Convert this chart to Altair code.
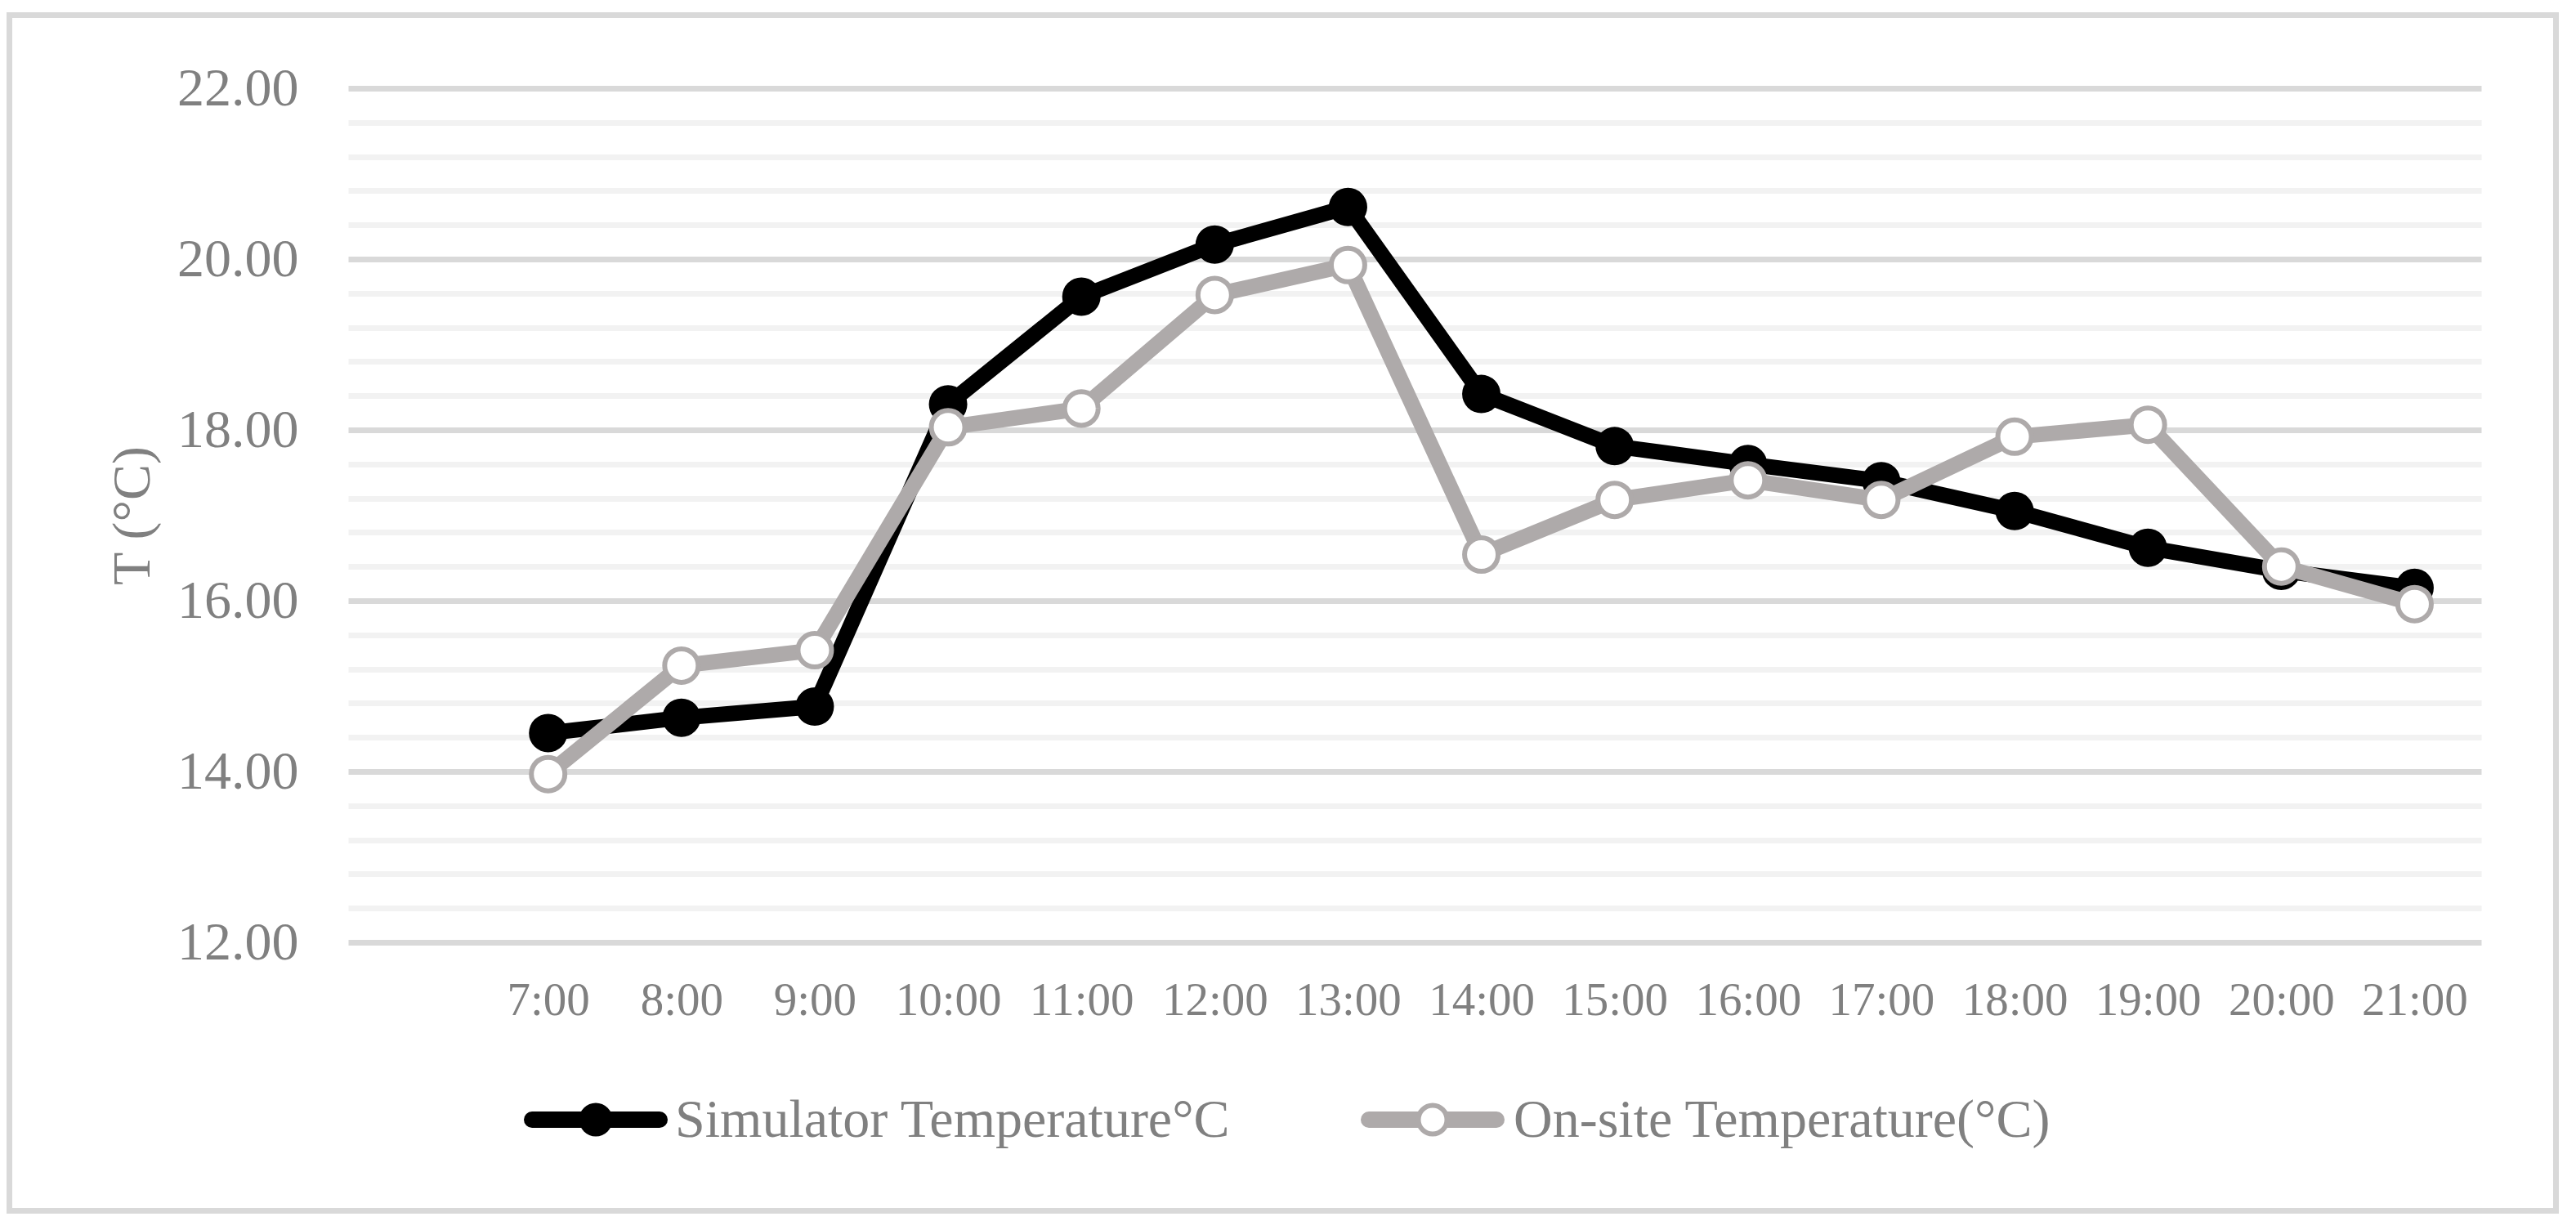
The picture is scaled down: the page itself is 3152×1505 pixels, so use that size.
import altair as alt
import pandas as pd

# ---- data ----
hours = ["7:00", "8:00", "9:00", "10:00", "11:00", "12:00", "13:00", "14:00",
         "15:00", "16:00", "17:00", "18:00", "19:00", "20:00", "21:00"]
x_slots = [""] + hours  # the category axis has an empty first slot
simulator = [14.45, 14.63, 14.76, 18.30, 19.56, 20.17, 20.61, 18.42,
             17.81, 17.60, 17.40, 17.05, 16.62, 16.35, 16.15]
onsite = [13.97, 15.24, 15.42, 18.03, 18.25, 19.58, 19.93, 16.54,
          17.18, 17.41, 17.18, 17.92, 18.06, 16.40, 15.96]
series_names = ["Simulator Temperature°C", "On-site Temperature(°C)"]
y_ticks = [12.0, 12.4, 12.8, 13.2, 13.6, 14.0, 14.4, 14.8, 15.2, 15.6,
           16.0, 16.4, 16.8, 17.2, 17.6, 18.0, 18.4, 18.8, 19.2, 19.6,
           20.0, 20.4, 20.8, 21.2, 21.6, 22.0]

df = pd.DataFrame({
    "hour": hours + hours,
    "temp": simulator + onsite,
    "series": [series_names[0]] * len(hours) + [series_names[1]] * len(hours),
})
leg_df = pd.DataFrame({"series": series_names})

FONT = "Liberation Serif"
TXT = "#808080"
BLACK = "#000000"
GRAY = "#AEAAAA"
W, H = 2610, 1045

major_test = "abs(datum.value - round(datum.value / 2) * 2) < 0.01"

x_enc = alt.X(
    "hour:O",
    scale=alt.Scale(type="point", domain=x_slots, padding=0.5),
    axis=alt.Axis(title=None, labelAngle=0, labelFont=FONT, labelFontSize=57,
                  labelColor=TXT, labelPadding=71, labelBaseline="middle",
                  ticks=False, tickSize=0, domain=False, grid=False,
                  labelOverlap=False),
)
y_enc = alt.Y(
    "temp:Q",
    scale=alt.Scale(domain=[12, 22], nice=False, zero=False),
    axis=alt.Axis(
        values=y_ticks,
        labelExpr=f"{major_test} ? format(datum.value, '.2f') : ''",
        labelFont=FONT, labelFontSize=66, labelColor=TXT, labelPadding=61,
        labelBaseline="middle", labelOverlap=False, labelBound=False,
        ticks=False, tickSize=0, domain=False,
        grid=True, gridWidth=7,
        gridColor={"condition": {"test": major_test, "value": "#D9D9D9"},
                   "value": "#F2F2F2"},
        title="T (°C)", titleFont=FONT, titleFontSize=66, titleColor=TXT,
        titleFontWeight="normal", titleAngle=270, titleX=-264, titleY=H / 2,
        titleAlign="center", titleBaseline="middle",
    ),
)

base = alt.Chart(df)

border = alt.Chart(leg_df.head(1)).mark_rect(
    fillOpacity=0, stroke="#D9D9D9", strokeWidth=7
).encode(x=alt.value(-414.5), x2=alt.value(2701.5),
         y=alt.value(-89.5), y2=alt.value(1373.5))

sim_line = base.transform_filter(alt.datum.series == series_names[0]).mark_line(
    color=BLACK, strokeWidth=19, strokeJoin="round", strokeCap="round"
).encode(x=x_enc, y=y_enc)
sim_pts = base.transform_filter(alt.datum.series == series_names[0]).mark_point(
    shape="circle", filled=True, fill=BLACK, opacity=1, strokeWidth=0, size=2209
).encode(x=x_enc, y=y_enc)
on_line = base.transform_filter(alt.datum.series == series_names[1]).mark_line(
    color=GRAY, strokeWidth=19, strokeJoin="round", strokeCap="round"
).encode(x=x_enc, y=y_enc)
on_pts = base.transform_filter(alt.datum.series == series_names[1]).mark_point(
    shape="circle", filled=True, fill="#FFFFFF", stroke=GRAY, strokeWidth=6,
    opacity=1, size=1681
).encode(x=x_enc, y=y_enc)

# ---- legend (drawn by hand, bottom centre) ----
LEG_Y = 1262
leg0 = alt.Chart(leg_df).transform_filter(alt.datum.series == series_names[0])
leg1 = alt.Chart(leg_df).transform_filter(alt.datum.series == series_names[1])
legend_layers = [
    leg0.mark_rule(color=BLACK, strokeWidth=20, strokeCap="round").encode(
        x=alt.value(225), x2=alt.value(381), y=alt.value(LEG_Y)),
    leg0.mark_point(shape="circle", filled=True, fill=BLACK, opacity=1,
                    strokeWidth=0, size=1681).encode(
        x=alt.value(303), y=alt.value(LEG_Y)),
    leg0.mark_text(align="left", baseline="middle", font=FONT, fontSize=66,
                   color=TXT).encode(
        x=alt.value(400), y=alt.value(LEG_Y + 1), text="series:N"),
    leg1.mark_rule(color=GRAY, strokeWidth=20, strokeCap="round").encode(
        x=alt.value(1249), x2=alt.value(1405), y=alt.value(LEG_Y)),
    leg1.mark_point(shape="circle", filled=True, fill="#FFFFFF", stroke=GRAY,
                    strokeWidth=6, opacity=1, size=1225).encode(
        x=alt.value(1327), y=alt.value(LEG_Y)),
    leg1.mark_text(align="left", baseline="middle", font=FONT, fontSize=66,
                   color=TXT).encode(
        x=alt.value(1426), y=alt.value(LEG_Y + 1), text="series:N"),
]

chart = alt.layer(
    border, sim_line, sim_pts, on_line, on_pts, *legend_layers
).properties(
    width=W, height=H,
    padding={"left": 418, "top": 100, "right": 100, "bottom": 336},
    autosize=alt.AutoSizeParams(type="none"),
    background="#FFFFFF",
).configure_view(stroke="transparent")

chart.save("out.html", embed_options={"renderer": "svg", "actions": False})
